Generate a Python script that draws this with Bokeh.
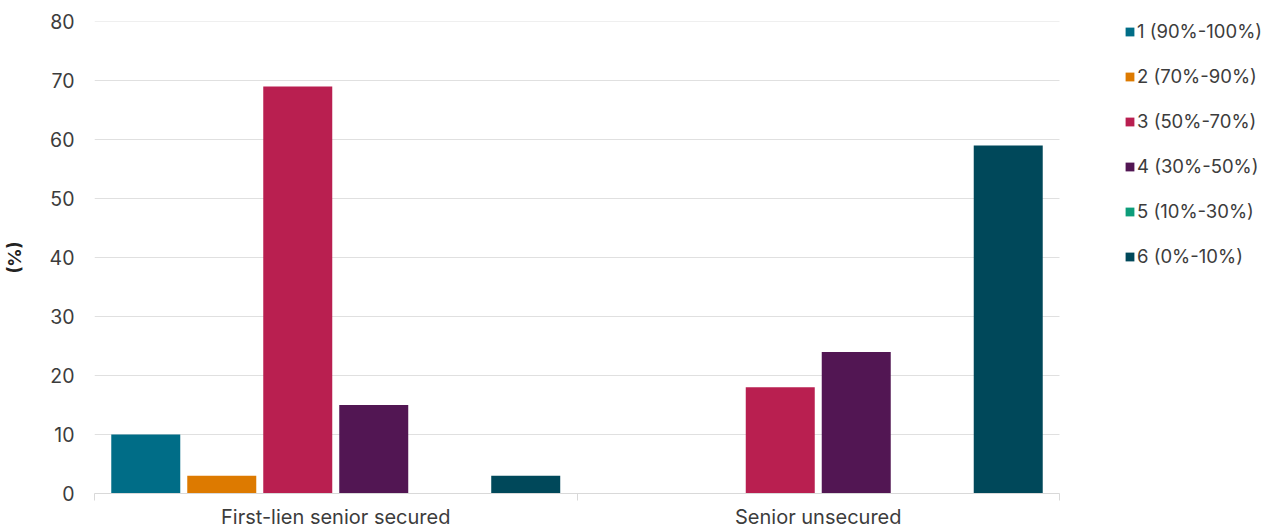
from bokeh.plotting import figure
from bokeh.models import FixedTicker, Legend, LegendItem, Range1d
from bokeh.embed import file_html
from bokeh.resources import INLINE

categories = ["First-lien senior secured", "Senior unsecured"]
series_names = ["1 (90%-100%)", "2 (70%-90%)", "3 (50%-70%)", "4 (30%-50%)", "5 (10%-30%)", "6 (0%-10%)"]
series_colors = ["#006d87", "#dd7a00", "#b91f50", "#521653", "#0d9d7a", "#00485a"]
s1 = [10, 0]
s2 = [3, 0]
s3 = [69, 18]
s4 = [15, 24]
s5 = [0, 0]
s6 = [3, 59]
y_ticks = [0, 10, 20, 30, 40, 50, 60, 70, 80]

series_values = [s1, s2, s3, s4, s5, s6]

FONT = "Inter"
TXT = "#3c3c3c"

W, H = 1272, 531
LEFT, PLOT_RIGHT = 94, 1059
n = len(categories)
# frame spans to the right edge so the legend can sit beside the bars
x_end = n * (W - LEFT) / (PLOT_RIGHT - LEFT)

p = figure(width=W, height=H, output_backend="svg", toolbar_location=None,
           x_range=Range1d(0, x_end), y_range=Range1d(0, 80),
           min_border_left=LEFT, min_border_right=0, min_border_top=21, min_border_bottom=38)
p.outline_line_color = None

# horizontal grid lines limited to the category area
p.segment(x0=[0] * len(y_ticks), x1=[n] * len(y_ticks), y0=y_ticks, y1=y_ticks,
          line_color="#e0e0e0", line_width=1)

step = 0.1575
bw = 0.143
items = []
for k, (name, col, vals) in enumerate(zip(series_names, series_colors, series_values)):
    xs = [i + 0.5 + (k - 2.5) * step for i in range(n)]
    r = p.vbar(x=xs, top=vals, width=bw, bottom=0, fill_color=col, line_color=None)
    items.append(LegendItem(label=name, renderers=[r]))

# x axis
centers = [i + 0.5 for i in range(n)]
p.xaxis.bounds = (0, n)
p.xaxis.ticker = FixedTicker(ticks=centers, minor_ticks=list(range(n + 1)))
p.xaxis.major_label_overrides = {c: lab for c, lab in zip(centers, categories)}
p.xaxis.major_tick_line_color = None
p.xaxis.major_tick_out = 0
p.xaxis.major_tick_in = 0
p.xaxis.minor_tick_line_color = "#d9d9d9"
p.xaxis.minor_tick_out = 7
p.xaxis.minor_tick_in = 0
p.xaxis.axis_line_color = "#d9d9d9"
p.xaxis.major_label_text_font = FONT
p.xaxis.major_label_text_font_size = "20px"
p.xaxis.major_label_text_color = TXT
p.xaxis.major_label_standoff = 4
p.xgrid.grid_line_color = None

# y axis
p.yaxis.ticker = FixedTicker(ticks=y_ticks)
p.yaxis.axis_line_color = None
p.yaxis.major_tick_line_color = None
p.yaxis.major_tick_out = 0
p.yaxis.major_tick_in = 0
p.yaxis.minor_tick_line_color = None
p.yaxis.major_label_text_font = FONT
p.yaxis.major_label_text_font_size = "19.5px"
p.yaxis.major_label_text_color = TXT
p.yaxis.major_label_standoff = 20
p.yaxis.axis_label = "(%)"
p.yaxis.axis_label_text_font = FONT
p.yaxis.axis_label_text_font_size = "18px"
p.yaxis.axis_label_text_font_style = "bold"
p.yaxis.axis_label_text_color = "#222222"
p.yaxis.axis_label_standoff = 22
p.ygrid.grid_line_color = None

legend = Legend(items=items, location=(1124 - LEFT, 225))
legend.border_line_color = None
legend.background_fill_alpha = 0
legend.label_text_font = FONT
legend.label_text_font_size = "18.5px"
legend.label_text_color = TXT
legend.glyph_width = 11
legend.glyph_height = 11
legend.label_standoff = 2
legend.spacing = 21
legend.padding = 0
legend.margin = 0
legend.label_height = 24
p.add_layout(legend, "center")

open("out.html", "w").write(file_html(p, INLINE))
